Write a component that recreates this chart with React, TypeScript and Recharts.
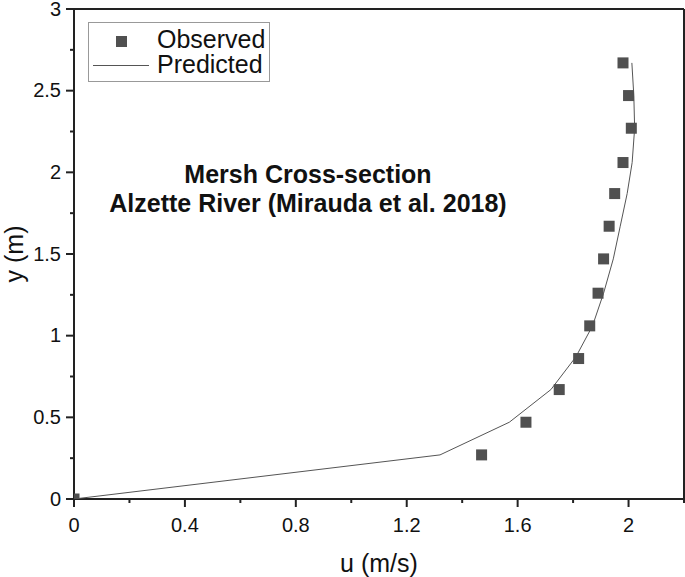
import {
  ScatterChart,
  Scatter,
  XAxis,
  YAxis,
  ReferenceLine,
  Legend,
} from 'recharts'

// observed velocity profile (u in m/s, y in m)
const observedU = [0, 1.47, 1.63, 1.75, 1.82, 1.86, 1.89, 1.91, 1.93, 1.95, 1.98, 2.01, 2.0, 1.98]
const observedY = [0, 0.27, 0.47, 0.67, 0.86, 1.06, 1.26, 1.47, 1.67, 1.87, 2.06, 2.27, 2.47, 2.67]

// predicted profile
const predictedU = [0, 1.32, 1.57, 1.72, 1.81, 1.87, 1.91, 1.945, 1.97, 1.995, 2.013, 2.022, 2.019, 2.012]
const predictedY = [0, 0.27, 0.47, 0.67, 0.87, 1.06, 1.26, 1.47, 1.67, 1.87, 2.06, 2.27, 2.47, 2.67]

const xTicks = [0, 0.2, 0.4, 0.6, 0.8, 1.0, 1.2, 1.4, 1.6, 1.8, 2.0, 2.2]
const xMajor = ['0', '0.4', '0.8', '1.2', '1.6', '2']
const yTicks = [0, 0.25, 0.5, 0.75, 1, 1.25, 1.5, 1.75, 2, 2.25, 2.5, 2.75, 3]
const yMajor = ['0', '0.5', '1', '1.5', '2', '2.5', '3']

const observed = observedU.map((u, i) => ({ u, y: observedY[i] }))
const predicted = predictedU.map((u, i) => ({ u, y: predictedY[i] }))

const FONT = 'Arial, "Liberation Sans", sans-serif'
const AXIS = '#222'
const MARK = '#505050'

const label = (v: number) => String(Math.round(v * 100) / 100)

function XTick(props: any) {
  const { x, y, payload } = props
  const text = label(payload.value)
  const major = xMajor.includes(text)
  return (
    <g>
      <line x1={x} y1={y} x2={x} y2={y + (major ? 8 : 4)} stroke={AXIS} strokeWidth={2} />
      {major && (
        <text x={x} y={y + 33} textAnchor="middle" fontSize={20} fontFamily={FONT} fill="#111">
          {text}
        </text>
      )}
    </g>
  )
}

function YTick(props: any) {
  const { x, y, payload } = props
  const text = label(payload.value)
  const major = yMajor.includes(text)
  return (
    <g>
      <line x1={x} y1={y} x2={x - (major ? 8 : 4)} y2={y} stroke={AXIS} strokeWidth={2} />
      {major && (
        <text x={x - 13} y={y + 6.5} textAnchor="end" fontSize={20} fontFamily={FONT} fill="#111">
          {text}
        </text>
      )}
    </g>
  )
}

function YLabel(props: any) {
  const { viewBox } = props
  const cx = viewBox.x + 14
  const cy = viewBox.y + viewBox.height / 2
  return (
    <text
      x={cx}
      y={cy}
      transform={`rotate(-90, ${cx}, ${cy})`}
      textAnchor="middle"
      dominantBaseline="central"
      fontSize={25}
      fontFamily={FONT}
      fill="#111"
    >
      y (m)
    </text>
  )
}

function LegendBox() {
  return (
    <div
      style={{
        position: 'relative',
        width: 182,
        height: 60,
        border: '1px solid #999',
        boxSizing: 'border-box',
        fontFamily: FONT,
        fontSize: 25,
        color: '#111',
      }}
    >
      <div style={{ position: 'absolute', left: 27, top: 13, width: 11, height: 11, background: MARK }} />
      <div style={{ position: 'absolute', left: 68, top: 4, lineHeight: '25px' }}>Observed</div>
      <div style={{ position: 'absolute', left: 4, top: 42, width: 56, height: 1, background: '#555' }} />
      <div style={{ position: 'absolute', left: 68, top: 29, lineHeight: '25px' }}>Predicted</div>
    </div>
  )
}

const Square = (props: any) => {
  const { cx, cy } = props
  return <rect x={cx - 5.5} y={cy - 5.5} width={11} height={11} fill={MARK} />
}

export default function App() {
  return (
    <div style={{ position: 'absolute', left: 0, top: 0, width: 685, height: 577, background: '#fff' }}>
      <ScatterChart width={685} height={577} margin={{ top: 9, right: 1, bottom: 0, left: 0 }}>
        <XAxis
          type="number"
          dataKey="u"
          domain={[0, 2.2]}
          ticks={xTicks}
          allowDataOverflow
          interval={0}
          tickSize={0}
          tickMargin={0}
          tickLine={false}
          tick={<XTick />}
          height={78}
          axisLine={{ stroke: AXIS, strokeWidth: 2 }}
          label={{ value: 'u (m/s)', position: 'insideBottom', offset: 5, fontSize: 25, fontFamily: FONT, fill: '#111' }}
        />
        <YAxis
          type="number"
          dataKey="y"
          domain={[0, 3]}
          ticks={yTicks}
          allowDataOverflow
          interval={0}
          tickSize={0}
          tickMargin={0}
          tickLine={false}
          tick={<YTick />}
          width={74}
          axisLine={{ stroke: AXIS, strokeWidth: 2 }}
          label={<YLabel />}
        />
        <ReferenceLine y={3} stroke={AXIS} strokeWidth={2} />
        <ReferenceLine x={2.2} stroke={AXIS} strokeWidth={2} />
        <Legend
          layout="vertical"
          align="center"
          verticalAlign="middle"
          wrapperStyle={{ left: 88, top: 22, width: 182 }}
          content={() => <LegendBox />}
        />
        <Scatter
          name="Predicted"
          data={predicted}
          line={{ stroke: '#555', strokeWidth: 1 }}
          shape={() => <g />}
          isAnimationActive={false}
        />
        <Scatter name="Observed" data={observed} shape={<Square />} isAnimationActive={false} />
      </ScatterChart>
      <div
        style={{
          position: 'absolute',
          left: 108,
          width: 400,
          top: 160,
          textAlign: 'center',
          fontFamily: FONT,
          fontWeight: 'bold',
          fontSize: 25,
          lineHeight: '29px',
          color: '#111',
        }}
      >
        Mersh Cross-section
        <br />
        Alzette River (Mirauda et al. 2018)
      </div>
    </div>
  )
}
